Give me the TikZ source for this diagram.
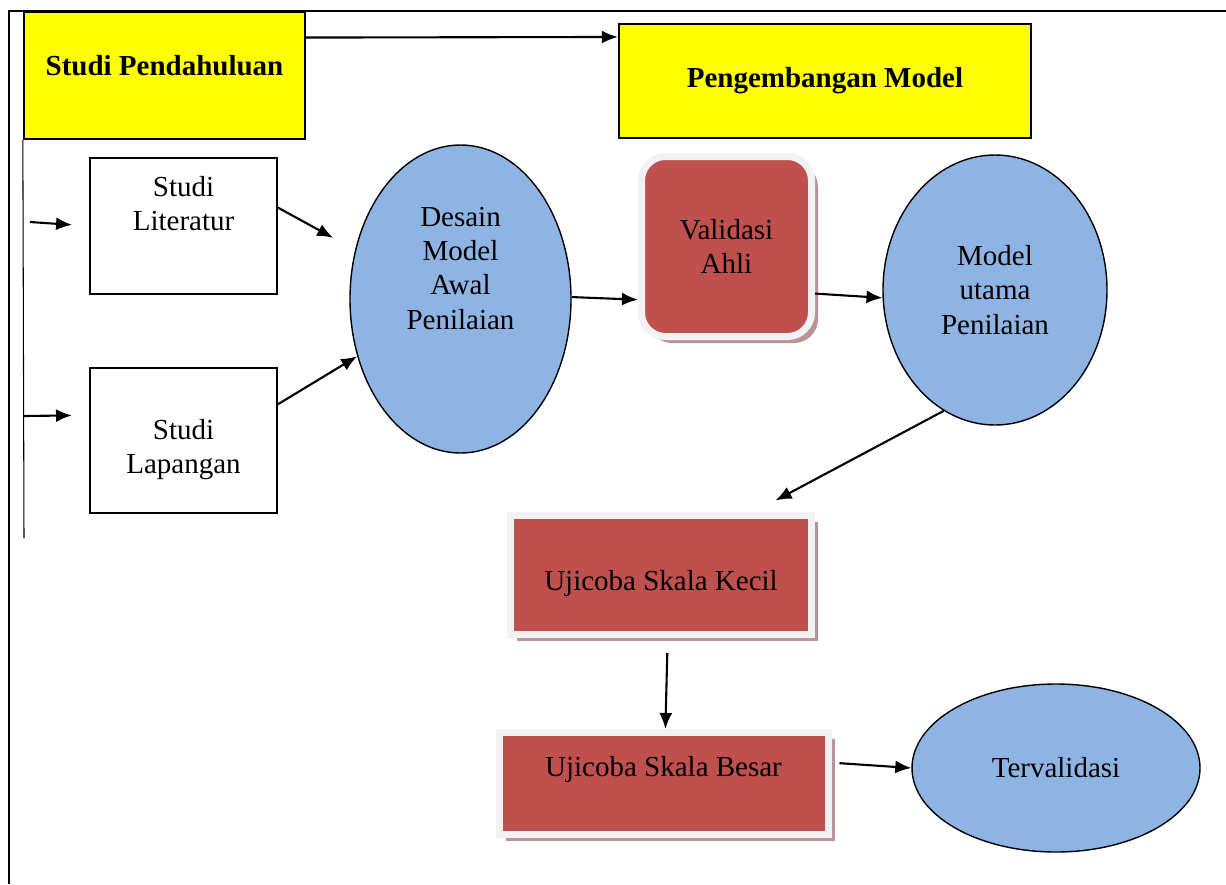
\documentclass[tikz,border=0pt]{standalone}
\usepackage{fontspec}
\setmainfont{Liberation Serif}
\usetikzlibrary{arrows, arrows.meta, positioning, shadows, shapes}

\definecolor{kuning}{HTML}{FFFF00}
\definecolor{biru}{HTML}{8EB4E3}
\definecolor{merah}{HTML}{C0504D}
\definecolor{tepi}{HTML}{F2F2F2}
\definecolor{bayang}{HTML}{B99494}

\begin{document}
\begin{tikzpicture}[x=0.2mm, y=-0.2mm,
  every node/.style={font=\fontsize{16.5}{19.5}\selectfont, align=center, inner sep=0pt},
  yellowbox/.style={rectangle, draw=black, fill=kuning, line width=1.3pt, font=\fontsize{16.5}{19.5}\selectfont\bfseries},
  whitebox/.style={rectangle, draw=black, fill=white, line width=1.1pt, minimum width=3.74cm},
  bluenode/.style={ellipse, draw=black, fill=biru, thick},
  redbox/.style={rectangle, draw=tepi, fill=merah, line width=0.14cm, drop shadow={shadow xshift=0.13cm, shadow yshift=-0.13cm, fill=bayang, opacity=1}},
  panah/.style={-{Latex[length=0.32cm, width=0.26cm]}, very thick}]
\useasboundingbox (0,0) rectangle (1226,884);
\draw [line width=1.6pt] (1226,11) -- (9,11) -- (9,884);
\node (1) [yellowbox, minimum width=5.62cm, minimum height=2.54cm] at (164.5,75.5) {Studi Pendahuluan\\[-0.3cm]\mbox{}};
\node (2) [yellowbox, minimum width=8.24cm, minimum height=2.28cm] at (825,81) {Pengembangan Model};
\node (3) [whitebox, minimum height=2.72cm] at (183.5,226) {Studi\\Literatur\\[0.21cm]\mbox{}};
\node (4) [whitebox, minimum height=2.9cm] at (183.5,440.5) {\rule{0pt}{0.76cm}Studi\\Lapangan};
\node (5) [bluenode, minimum width=4.42cm, minimum height=6.16cm] at (460.5,299) {Desain\\Model\\Awal\\Penilaian\\[0.55cm]\mbox{}};
\node (6) [redbox, rounded corners=0.48cm, minimum width=3.4cm, minimum height=3.6cm] at (726.5,246.5) {Validasi\\Ahli};
\node (7) [bluenode, minimum width=4.48cm, minimum height=5.4cm] at (995,290) {Model\\utama\\Penilaian};
\node (8) [redbox, minimum width=6.02cm, minimum height=2.39cm] at (661,574.75) {\rule{0pt}{0.74cm}Ujicoba Skala Kecil};
\node (9) [redbox, minimum width=6.58cm, minimum height=2.03cm] at (663.5,783.25) {Ujicoba Skala Besar\\ \mbox{}};
\node (10) [bluenode, minimum width=5.76cm, minimum height=3.36cm] at (1056,768) {Tervalidasi};
\coordinate (a1) at (30,222);
\coordinate (a2) at (24,416);
\coordinate (e) at (24,538);
\draw [semithick] (1.south west) -- (e);
\draw [panah] (1.15) -- (2.168);
\draw [panah, shorten >=0.34cm] (a1) -- (3.west);
\draw [panah, shorten >=0.34cm] (a2) -- (4.165);
\draw [panah, shorten >=0.5cm] (3.11) -- (5.155);
\draw [panah] (4.21) -- (5.209);
\draw [panah] (5.1) -- (6.211);
\draw [panah] (6.332) -- (7.184);
\draw [panah, shorten >=0.47cm] (7.247) -- (8.34);
\draw [panah, shorten <=0.3cm] (8.276) -- (9.88);
\draw [panah, shorten <=0.16cm] (9.7) -- (10.west);
\end{tikzpicture}
\end{document}
